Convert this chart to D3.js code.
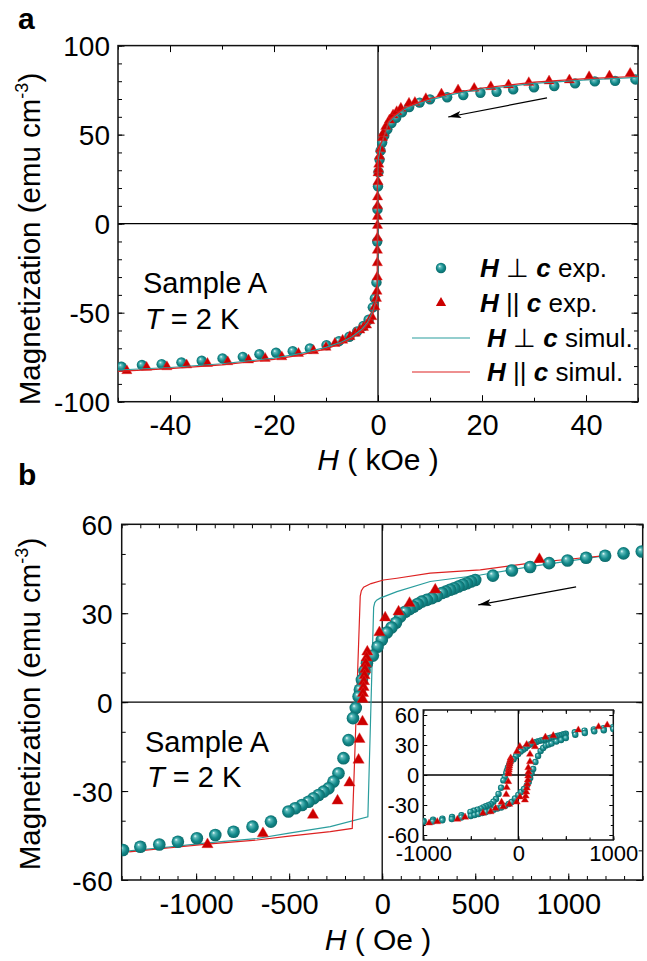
<!DOCTYPE html>
<html>
<head>
<meta charset="utf-8">
<script src="https://cdn.jsdelivr.net/npm/d3@7"></script>
<style>
  body { margin: 0; background: #fff; }
  text { font-family: "Liberation Sans", Arial, sans-serif; fill: #000; }
</style>
</head>
<body>
<main></main>
<script>
// ---- data (H, M) ----
// panel a, H in kOe
var aTeal = [[-49.3,-80.4],[-45.4,-79.4],[-41.6,-78.9],[-37.8,-77.9],[-33.9,-77],[-29.9,-75.7],[-26,-74.8],[-22.8,-73.3],[-19.6,-72.5],[-16.4,-71.6],[-13.1,-70.1],[-9.9,-68.2],[-7.5,-66],[-5.5,-63.5],[-4,-60.5],[-2.8,-57.5],[-1.8,-54],[-1.0,-47],[-0.6,-42],[-0.3,-33],[-0.15,-10],[-0.1,8],[0,21],[0.1,29],[0.3,36],[0.5,41],[0.8,45.6],[1.2,49.4],[1.8,53],[2.6,56.5],[3.5,59.5],[4.6,62.5],[6,65.5],[8,68],[10,69.8],[13.3,71],[16.4,72.2],[19.7,73.5],[22.8,74.1],[26,75.4],[30,76.6],[33.9,77.3],[37.9,78.8],[41.7,79.9],[45.6,80.2],[49.5,81.0]];
var aRed = [[-48.3,-82.6],[-44.5,-80.7],[-40.6,-80.4],[-36.8,-79.4],[-32.8,-78.5],[-28.9,-77.6],[-24.9,-76.6],[-21.7,-75.7],[-18.5,-74.8],[-15.3,-72.9],[-12.4,-71.4],[-10,-69.5],[-8.3,-67.3],[-6.8,-65.5],[-5.4,-63.5],[-4.4,-61.5],[-3.5,-59.8],[-2.8,-58.3],[-2.2,-57],[-1.6,-54.5],[-1.2,-52.3],[-0.6,-46.7],[-0.3,-42],[-0.2,-38],[-0.15,-30],[-0.13,-22],[-0.12,-15],[-0.11,-8],[-0.1,-1],[-0.1,4],[-0.09,10],[-0.08,15],[0,23.5],[0.02,28.5],[0.09,30.5],[0.15,33.4],[0.29,37.9],[0.5,42],[0.85,48.2],[1.0,50.7],[1.5,54.5],[2.2,58.2],[2.9,61],[3.6,62.9],[4.4,64.8],[5.96,67.6],[7.1,68.1],[9.2,70.2],[12.2,72.8],[15.4,75.1],[18.5,76],[21.7,76.9],[25.1,77.9],[29,79.2],[32.9,80.1],[36.8,80.7],[40.6,82.5],[44.5,82.9],[48.5,84.4]];
var aSimTeal = [[50,82.2],[40,80.8],[30,78.8],[20,75.5],[15,73],[10,69.5],[7,66.5],[5,64],[3,59.5],[2,56.5],[1.2,49.4],[0.5,42.9],[0,35.5],[-0.04,33],[-0.08,-38.7],[-0.3,-42.5],[-1,-49],[-2,-55.5],[-3,-59],[-5,-63.5],[-7,-66.5],[-10,-69.5],[-15,-73],[-20,-75.5],[-30,-78.7],[-40,-80.8],[-50,-82.2]];
var aSimRed = [[50,82.8],[40,81.4],[30,79.5],[20,76.2],[15,73.8],[10,70.3],[7,67.3],[5,64.8],[3,60.3],[2,57.3],[1.2,49.4],[0.5,44.6],[0,41],[-0.12,35.5],[-0.16,-42.6],[-0.3,-43.2],[-1,-50.5],[-2,-56.5],[-3,-60],[-5,-64.3],[-7,-67.3],[-10,-70.3],[-15,-73.8],[-20,-76.2],[-30,-79.3],[-40,-81.4],[-50,-83]];

// panel b, H in Oe (descending branch)
var bTeal = [[1395,50.8],[1297,50.2],[1198,49.4],[1096,48.7],[996,47.8],[897,46.9],[795,45.6],[697,44.4],[595,42.7],[500,41.2],[477,40.7],[455,40.1],[433,39.6],[410,39],[387,38.4],[365,37.9],[342,37.3],[321,36.8],[294,35.8],[267,35.1],[240,34.5],[213,33.9],[190,33.1],[168,32.2],[147,31.4],[124,30.5],[97,28.9],[74,26.8],[50,25.2],[25,23.5],[-2,21],[-25,18.7],[-50,15.7],[-82,13.1],[-95,10.5],[-109,7.5],[-120,4.2],[-127,1.9],[-142,-2],[-157,-5.4],[-181,-12.8],[-208,-18.9],[-235,-24],[-262,-26.8],[-289,-29.1],[-315,-30.2],[-342,-31.3],[-369,-32.4],[-396,-33.6],[-431,-34.7],[-468,-35.8],[-504,-36.9],[-598,-40.3],[-697,-42],[-799,-43.7],[-897,-44.8],[-996,-45.9],[-1098,-47.1],[-1198,-48],[-1300,-48.8],[-1393,-49.9]];
var bRed = [[845,48.2],[285,37.9],[147,33.4],[88,30.5],[16,28.5],[-15,23.5],[-80,17],[-84,15],[-88,13],[-92,11],[-95,9],[-98,7],[-100,5],[-103,3],[-105,1],[-106,-6.6],[-122,-12.5],[-127,-19.5],[-176,-27.2],[-240,-33.3],[-372,-38.1],[-641,-44.3],[-939,-48]];
var bSimTeal = [[1200,49.4],[1000,47.6],[795,45.7],[527,42.9],[258,40.7],[79,37.3],[-11,35.1],[-30,34.4],[-40,33.6],[-46,32],[-77,-38.7],[-279,-42],[-500,-44.2],[-673,-46],[-942,-47.5],[-1150,-48.9],[-1360,-50.2]];
var bSimRed = [[1200,49.4],[1000,48.2],[795,46.9],[527,44.6],[258,43.5],[79,41.8],[7,41.2],[-60,40],[-100,38.8],[-112,37.6],[-118,35.8],[-161,-42.6],[-279,-43.7],[-500,-45.2],[-673,-46.5],[-942,-47.9],[-1150,-49.2],[-1360,-50.5]];

// inset, ascending branches (descending ones are bTeal / bRed)
var inTealUp = [[-1000,-47],[-900,-46.5],[-800,-45.3],[-700,-44],[-600,-42.5],[-500,-41],[-460,-40],[-420,-39],[-380,-38],[-340,-37],[-300,-36],[-260,-34.8],[-220,-33.5],[-180,-32.5],[-140,-31],[-100,-29],[-70,-27],[-35,-23.5],[0,-20],[30,-17],[60,-14],[90,-10.5],[110,-7],[125,-3],[140,2],[157,6],[180,13],[208,19],[235,24],[262,27],[290,29.5],[320,30.5],[350,31.5],[400,33.5],[450,35],[500,37],[600,40.3],[700,42],[800,43.7],[900,44.8],[1000,46]];
var inRedUp = [[-853,-46.7],[-560,-42.2],[-291,-36.7],[-158,-31.7],[-95,-29.3],[-17,-27],[18,-22],[70,-25],[78,-21],[84,-17],[90,-13],[95,-9],[100,-5],[104,-1],[108,3],[105,7.3],[123,13.3],[123,20.7],[176,28.3],[368,39.3],[632,45],[936,50]];

// axis ticks
var aXMajor = [-40, -20, 0, 20, 40], aXMinor = d3.range(-50, 51, 10);
var aYMajor = [-100, -50, 0, 50, 100], aYMinor = d3.range(-100, 101, 10);
var bXMajor = [-1000, -500, 0, 500, 1000], bXMinor = d3.range(-1400, 1401, 100);
var bYMajor = [-60, -30, 0, 30, 60], bYMinor = d3.range(-60, 61, 10);
var inXLabels = [-1000, 0, 1000], inXMajor = [-1000, -500, 0, 500, 1000], inXMinor = d3.range(-1000, 1001, 250);
var inYMajor = [-60, -30, 0, 30, 60], inYMinor = d3.range(-60, 61, 10);

var TEAL_LINE = "#2a9d9d", RED = "#cc0000", RED_LINE = "#dd2222";

var svg = d3.select("main").append("svg")
  .attr("width", 647).attr("height", 961);

var defs = svg.append("defs");
var grad = defs.append("radialGradient").attr("id", "sph")
  .attr("cx", 0.5).attr("cy", 0.5).attr("r", 0.55).attr("fx", 0.35).attr("fy", 0.32);
grad.append("stop").attr("offset", 0).attr("stop-color", "#f4ffff");
grad.append("stop").attr("offset", 0.22).attr("stop-color", "#5fbcbc");
grad.append("stop").attr("offset", 0.6).attr("stop-color", "#13898a");
grad.append("stop").attr("offset", 1).attr("stop-color", "#0b6464");
defs.append("marker").attr("id", "arr")
  .attr("markerUnits", "userSpaceOnUse")
  .attr("markerWidth", 14).attr("markerHeight", 8)
  .attr("refX", 13).attr("refY", 3.5).attr("orient", "auto")
  .append("path").attr("d", "M0,0 L13,3.5 L0,7 L3,3.5 z").attr("fill", "#000");

function frame(g, x, y, o) {
  var x0 = x.range()[0], x1 = x.range()[1], yb = y.range()[0], yt = y.range()[1];
  var fmt = function(d) { return String(d); };
  function strip(sel) { sel.select(".domain").remove(); sel.selectAll("line").attr("stroke", "#000").attr("stroke-width", 1); }
  // minor ticks, all four sides
  g.append("g").attr("transform", "translate(0," + yb + ")").call(d3.axisBottom(x).tickValues(o.xMinor).tickSize(-o.minor).tickFormat("")).call(strip);
  g.append("g").attr("transform", "translate(0," + yt + ")").call(d3.axisTop(x).tickValues(o.xMinor).tickSize(-o.minor).tickFormat("")).call(strip);
  g.append("g").attr("transform", "translate(" + x0 + ",0)").call(d3.axisLeft(y).tickValues(o.yMinor).tickSize(-o.minor).tickFormat("")).call(strip);
  g.append("g").attr("transform", "translate(" + x1 + ",0)").call(d3.axisRight(y).tickValues(o.yMinor).tickSize(-o.minor).tickFormat("")).call(strip);
  // major ticks
  g.append("g").attr("transform", "translate(0," + yt + ")").call(d3.axisTop(x).tickValues(o.xMajor).tickSize(-o.major).tickFormat("")).call(strip);
  g.append("g").attr("transform", "translate(" + x1 + ",0)").call(d3.axisRight(y).tickValues(o.yMajor).tickSize(-o.major).tickFormat("")).call(strip);
  g.append("g").attr("transform", "translate(0," + yb + ")")
    .call(d3.axisBottom(x).tickValues(o.xMajor).tickSize(-o.major).tickFormat(function(d) { return o.xLabels.indexOf(d) >= 0 ? fmt(d) : ""; }))
    .call(strip)
    .call(function(s) { s.selectAll("text").attr("y", o.xLabOff).attr("dy", null).attr("font-size", o.xFont).attr("font-family", null).attr("fill", "#000"); });
  g.append("g").attr("transform", "translate(" + x0 + ",0)")
    .call(d3.axisLeft(y).tickValues(o.yMajor).tickSize(-o.major).tickFormat(fmt))
    .call(strip)
    .call(function(s) { s.selectAll("text").attr("x", -o.yLabOff).attr("dy", "0.36em").attr("font-size", o.yFont).attr("font-family", null).attr("fill", "#000"); });
  // zero lines
  g.append("line").attr("x1", x0).attr("x2", x1).attr("y1", y(0)).attr("y2", y(0)).attr("stroke", "#000").attr("stroke-width", 1.3);
  g.append("line").attr("x1", x(0)).attr("x2", x(0)).attr("y1", yt).attr("y2", yb).attr("stroke", "#000").attr("stroke-width", 1.3);
  g.append("rect").attr("x", x0).attr("y", yt).attr("width", x1 - x0).attr("height", yb - yt)
    .attr("fill", "none").attr("stroke", "#111").attr("stroke-width", 1.5);
}

function clip(id, x, y) {
  defs.append("clipPath").attr("id", id).append("rect")
    .attr("x", x.range()[0]).attr("y", y.range()[1])
    .attr("width", x.range()[1] - x.range()[0]).attr("height", y.range()[0] - y.range()[1]);
}

function circles(g, data, x, y, r) {
  g.selectAll(null).data(data).enter().append("circle")
    .attr("cx", function(d) { return x(d[0]); }).attr("cy", function(d) { return y(d[1]); })
    .attr("r", r).attr("fill", "url(#sph)");
}
function triangles(g, data, x, y, size) {
  var sym = d3.symbol(d3.symbolTriangle).size(size);
  g.selectAll(null).data(data).enter().append("path")
    .attr("d", sym)
    .attr("transform", function(d) { return "translate(" + x(d[0]) + "," + y(d[1]) + ")"; })
    .attr("fill", RED).attr("stroke", "#e23030").attr("stroke-width", 0.4);
}
function curve(g, data, x, y, color) {
  g.append("path").datum(data)
    .attr("d", d3.line().x(function(d) { return x(d[0]); }).y(function(d) { return y(d[1]); }))
    .attr("fill", "none").attr("stroke", color).attr("stroke-width", 1.2);
}
function richText(g, px, py, size, parts) {
  var t = g.append("text").attr("x", px).attr("y", py).attr("font-size", size);
  parts.forEach(function(p) {
    t.append("tspan").text(p[0])
      .attr("font-weight", p[1] && p[1].indexOf("b") >= 0 ? "bold" : null)
      .attr("font-style", p[1] && p[1].indexOf("i") >= 0 ? "italic" : null);
  });
  return t;
}
function yTitle(cx, cy) {
  var t = svg.append("text").attr("transform", "translate(" + cx + "," + cy + ") rotate(-90)")
    .attr("text-anchor", "middle").attr("font-size", 29.5);
  t.append("tspan").text("Magnetization (emu cm");
  t.append("tspan").text("-3").attr("font-size", 18).attr("dy", -12);
  t.append("tspan").text(")").attr("dy", 12);
}

// ---------------- panel a ----------------
var xa = d3.scaleLinear().domain([-50, 50]).range([118, 638]);
var ya = d3.scaleLinear().domain([-100, 100]).range([401.7, 45.6]);
var ga = svg.append("g");
frame(ga, xa, ya, { xMinor: aXMinor, xMajor: aXMajor, xLabels: aXMajor, yMinor: aYMinor, yMajor: aYMajor,
  minor: 4, major: 6.5, xFont: 29, yFont: 28, xLabOff: 33, yLabOff: 8 });
clip("ca", xa, ya);
var pa = ga.append("g").attr("clip-path", "url(#ca)");
circles(pa, aTeal, xa, ya, 5.2);
triangles(pa, aRed, xa, ya, 46);
curve(pa, aSimTeal, xa, ya, TEAL_LINE);
curve(pa, aSimRed, xa, ya, RED_LINE);
ga.append("line").attr("x1", xa(32.5)).attr("y1", ya(70.6)).attr("x2", xa(13.5)).attr("y2", ya(59.9))
  .attr("stroke", "#000").attr("stroke-width", 1.2).attr("marker-end", "url(#arr)");

richText(ga, 143, 293, 29, [["Sample A"]]);
richText(ga, 145, 329, 29, [["T", "i"], [" = 2 K"]]);

// legend
var lg = ga.append("g");
lg.append("circle").attr("cx", 441).attr("cy", 268).attr("r", 5.2).attr("fill", "url(#sph)");
lg.append("path").attr("d", d3.symbol(d3.symbolTriangle).size(46)).attr("transform", "translate(441,303)").attr("fill", RED);
lg.append("line").attr("x1", 412).attr("x2", 470).attr("y1", 338).attr("y2", 338).attr("stroke", TEAL_LINE).attr("stroke-width", 1.2);
lg.append("line").attr("x1", 412).attr("x2", 470).attr("y1", 372).attr("y2", 372).attr("stroke", RED_LINE).attr("stroke-width", 1.2);
richText(lg, 480, 277, 26, [["H", "bi"], [" \u22A5 "], ["c", "bi"], [" exp."]]);
richText(lg, 480, 312, 26, [["H", "bi"], [" || "], ["c", "bi"], [" exp."]]);
richText(lg, 487, 347, 26, [["H", "bi"], [" \u22A5 "], ["c", "bi"], [" simul."]]);
richText(lg, 487, 381, 26, [["H", "bi"], [" || "], ["c", "bi"], [" simul."]]);

richText(svg, 378, 470, 30, [["H", "i"], [" ( kOe )"]]).attr("text-anchor", "middle");
yTitle(40, 239);
svg.append("text").attr("x", 18).attr("y", 29).attr("font-size", 30).attr("font-weight", "bold").text("a");

// ---------------- panel b ----------------
var xb = d3.scaleLinear().domain([-1400, 1400]).range([121.7, 642.7]);
var yb = d3.scaleLinear().domain([-60, 60]).range([880, 524.3]);
var gb = svg.append("g");
frame(gb, xb, yb, { xMinor: bXMinor, xMajor: bXMajor, xLabels: bXMajor, yMinor: bYMinor, yMajor: bYMajor,
  minor: 4, major: 6.5, xFont: 29, yFont: 28, xLabOff: 34, yLabOff: 9 });
clip("cb", xb, yb);
var pb = gb.append("g").attr("clip-path", "url(#cb)");
curve(pb, bSimTeal, xb, yb, TEAL_LINE);
curve(pb, bSimRed, xb, yb, RED_LINE);
circles(pb, bTeal, xb, yb, 6.3);
triangles(pb, bRed, xb, yb, 55);
gb.append("line").attr("x1", xb(1042)).attr("y1", yb(38.9)).attr("x2", xb(516)).attr("y2", yb(32.8))
  .attr("stroke", "#000").attr("stroke-width", 1.2).attr("marker-end", "url(#arr)");
richText(gb, 145, 752, 29, [["Sample A"]]);
richText(gb, 147, 787, 29, [["T", "i"], [" = 2 K"]]);

richText(svg, 378, 950, 30, [["H", "i"], [" ( Oe )"]]).attr("text-anchor", "middle");
yTitle(40, 704);
svg.append("text").attr("x", 18).attr("y", 485).attr("font-size", 30).attr("font-weight", "bold").text("b");

// ---------------- inset ----------------
var xi = d3.scaleLinear().domain([-1000, 1000]).range([423.3, 613.3]);
var yi = d3.scaleLinear().domain([-65, 65]).range([840, 710]);
var gi = svg.append("g");
gi.append("rect").attr("x", 423.3).attr("y", 710).attr("width", 190).attr("height", 130).attr("fill", "#fff");
frame(gi, xi, yi, { xMinor: inXMinor, xMajor: inXMajor, xLabels: inXLabels, yMinor: inYMinor, yMajor: inYMajor,
  minor: 2.5, major: 4, xFont: 22, yFont: 22, xLabOff: 21, yLabOff: 4 });
clip("ci", xi, yi);
var pin = gi.append("g").attr("clip-path", "url(#ci)");
circles(pin, bTeal, xi, yi, 3.2);
circles(pin, inTealUp, xi, yi, 3.2);
triangles(pin, bRed, xi, yi, 22);
triangles(pin, inRedUp, xi, yi, 22);
</script>
</body>
</html>
